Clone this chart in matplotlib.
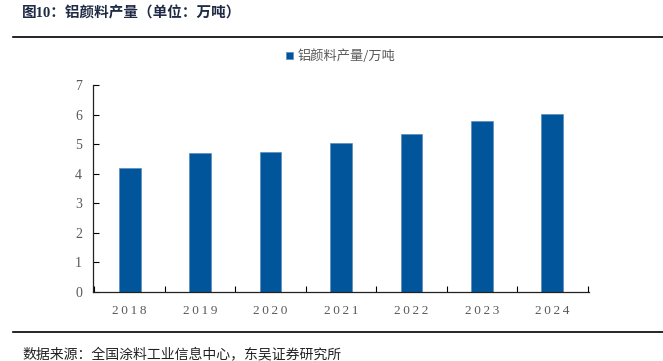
import matplotlib.pyplot as plt
import numpy as np

plt.rcParams['font.family'] = ['Liberation Serif', 'Noto Sans CJK SC']

years = ['2018', '2019', '2020', '2021', '2022', '2023', '2024']
output = [4.2, 4.7, 4.75, 5.03, 5.33, 5.78, 6.01]

bar_color = '#00559B'
grey = '#595959'

fig = plt.figure(figsize=(6.63, 3.61), dpi=100)
ax = fig.add_axes([93 / 663, 1 - 292 / 361, 496 / 663, 207 / 361])

x = np.arange(len(years))
ax.bar(x, output, width=0.31, color=bar_color, edgecolor='#5b8cc0', linewidth=0.5,
       label='铝颜料产量/万吨')

ax.set_xlim(-0.52, len(years) - 0.48)
ax.set_ylim(0, 7)
ax.set_yticks(range(0, 8))
ax.set_xticks(x)
ax.set_xticklabels(['\u2009'.join(y) for y in years])
ax.set_xticks(np.arange(-0.5, len(years)), minor=True)
ax.tick_params(axis='x', which='major', length=0, pad=9, labelsize=10, labelcolor=grey)
ax.tick_params(axis='x', which='minor', direction='in', length=4, width=0.8)
ax.tick_params(axis='y', direction='in', length=4, width=0.8, pad=8, labelsize=10,
               labelcolor=grey)
for lab in ax.get_xticklabels():
    lab.set_fontfamily(['Liberation Serif'])
    lab.set_fontsize(9.5)
for s in ['top', 'right']:
    ax.spines[s].set_visible(False)
for s in ['left', 'bottom']:
    ax.spines[s].set_color('#222222')
    ax.spines[s].set_linewidth(0.9)

leg = ax.legend(loc='upper center', bbox_to_anchor=(0.5, 1.23), frameon=False,
                handlelength=0.5, handleheight=0.5, handletextpad=0.4,
                prop={'family': ['Noto Sans CJK SC'], 'size': 9.5})
for t in leg.get_texts():
    t.set_color(grey)

fig.text(22 / 663, 1 - 13 / 361, '图10：铝颜料产量（单位：万吨）', fontsize=10.5,
         fontweight='bold', color='#1f2a44', va='center',
         family=['Liberation Serif', 'Noto Sans CJK SC'])
fig.add_artist(plt.Line2D([13 / 663, 1], [1 - 37 / 361] * 2, color='black', lw=1.2))
fig.add_artist(plt.Line2D([13 / 663, 1], [1 - 332 / 361] * 2, color='black', lw=1.2))
fig.text(22 / 663, 1 - 354 / 361, '数据来源：全国涂料工业信息中心，东吴证券研究所', fontsize=10,
         color='#222222', va='center', family=['Noto Sans CJK SC'])

fig.savefig('out.png', dpi=100)
